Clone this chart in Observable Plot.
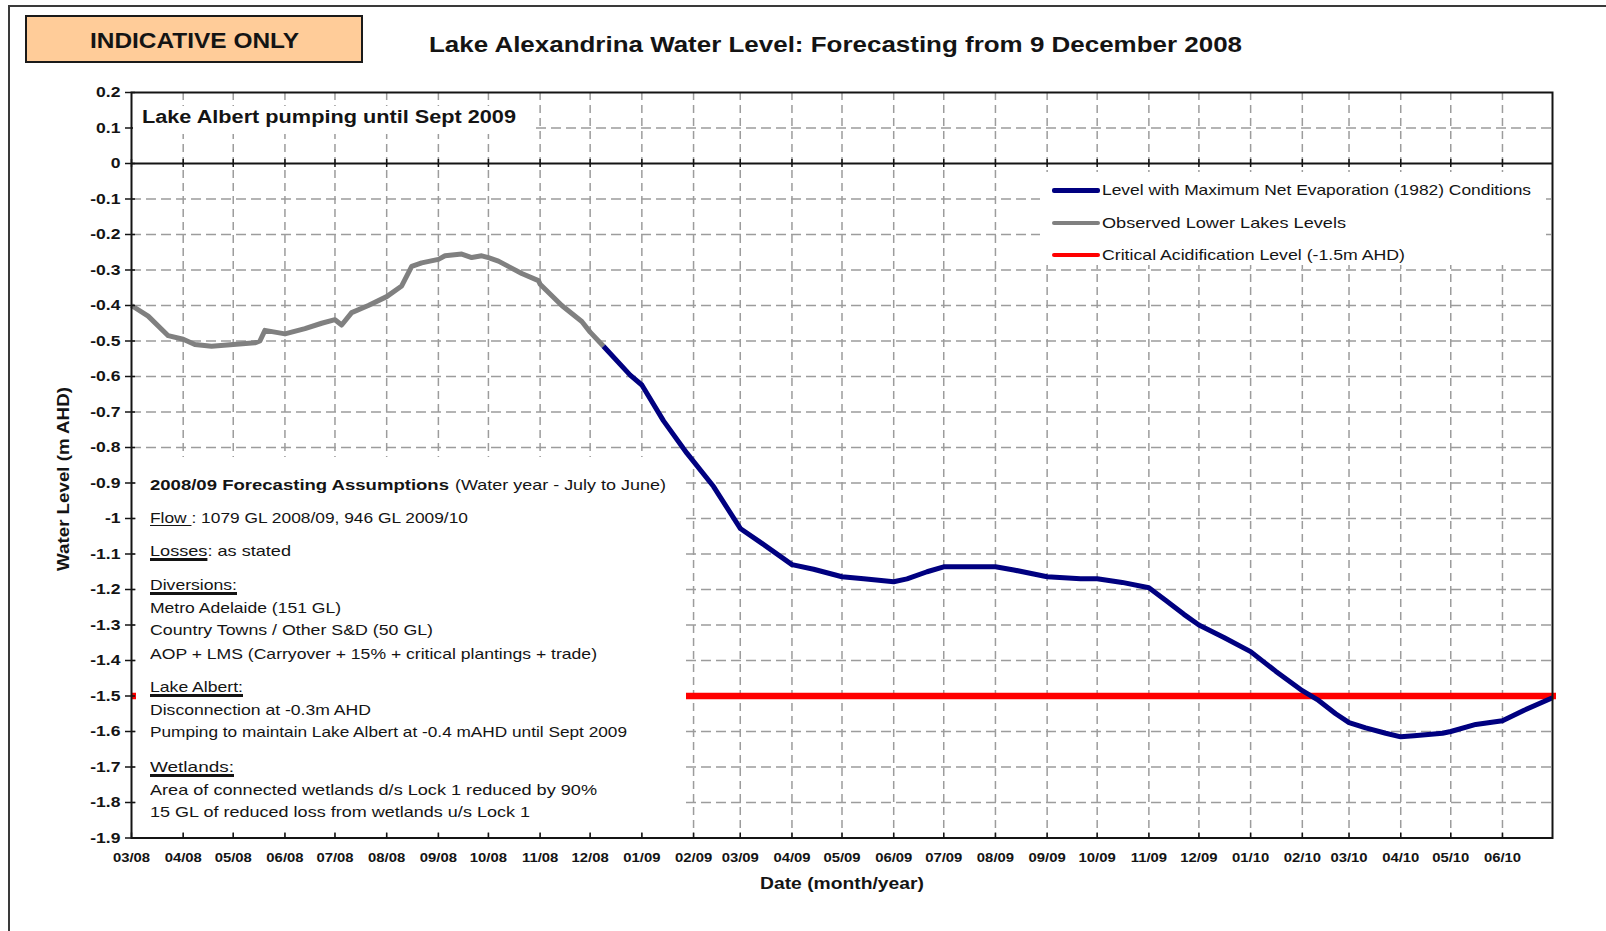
<!DOCTYPE html>
<html>
<head>
<meta charset="utf-8">
<script src="https://cdn.jsdelivr.net/npm/d3@7"></script>
<script src="https://cdn.jsdelivr.net/npm/@observablehq/plot@0.6"></script>
<style>
  html, body { margin: 0; padding: 0; background: #fff; overflow: hidden; }
  #wrap { position: relative; width: 1606px; height: 931px; overflow: hidden;
          font-family: "Liberation Sans", Arial, sans-serif; color: #141414; }
  #chart { position: absolute; left: 0; top: 0; }
  .ov { position: absolute; white-space: nowrap; line-height: 1; transform-origin: 0 50%; }
  .box { position: absolute; background: #fff; }
  .u1 { text-decoration: underline; text-decoration-thickness: 1.2px; text-underline-offset: 2px; }
  .u2 { text-decoration: underline; text-decoration-thickness: 2.6px; text-underline-offset: 2px; }
</style>
</head>
<body>
<div id="wrap"></div>
<script>
// ---------------- data ----------------
const observedDates = ["2008-03-01","2008-03-11","2008-03-23","2008-04-01","2008-04-08","2008-04-18","2008-05-01","2008-05-14","2008-05-17","2008-05-20","2008-06-01","2008-06-13","2008-06-23","2008-07-01","2008-07-05","2008-07-11","2008-07-21","2008-08-01","2008-08-10","2008-08-16","2008-08-22","2008-09-01","2008-09-05","2008-09-15","2008-09-21","2008-09-27","2008-10-01","2008-10-07","2008-10-21","2008-10-31","2008-11-01","2008-11-14","2008-11-26","2008-12-01","2008-12-09"];
const observedLevels = [-0.40,-0.43,-0.485,-0.495,-0.51,-0.515,-0.51,-0.505,-0.50,-0.47,-0.48,-0.465,-0.45,-0.44,-0.455,-0.42,-0.40,-0.375,-0.345,-0.29,-0.28,-0.27,-0.26,-0.255,-0.265,-0.26,-0.265,-0.275,-0.31,-0.33,-0.34,-0.40,-0.445,-0.475,-0.515];

const forecastDates = ["2008-12-09","2008-12-25","2009-01-01","2009-01-14","2009-01-28","2009-02-13","2009-03-01","2009-03-14","2009-04-01","2009-04-14","2009-05-01","2009-05-14","2009-06-01","2009-06-09","2009-06-21","2009-07-01","2009-08-01","2009-08-12","2009-09-01","2009-09-21","2009-10-01","2009-10-16","2009-11-01","2009-11-11","2009-11-22","2009-12-01","2009-12-16","2010-01-01","2010-01-16","2010-02-01","2010-02-10","2010-02-21","2010-03-01","2010-03-11","2010-03-23","2010-04-01","2010-04-09","2010-04-26","2010-05-01","2010-05-16","2010-06-01","2010-06-14","2010-07-01"];
const forecastLevels = [-0.515,-0.596,-0.624,-0.725,-0.816,-0.91,-1.028,-1.07,-1.13,-1.143,-1.164,-1.17,-1.178,-1.17,-1.15,-1.136,-1.136,-1.145,-1.164,-1.17,-1.17,-1.18,-1.195,-1.23,-1.27,-1.30,-1.335,-1.375,-1.43,-1.485,-1.51,-1.55,-1.575,-1.59,-1.605,-1.615,-1.612,-1.605,-1.60,-1.58,-1.57,-1.54,-1.505];

const criticalLevel = [-1.5];
const zeroLevel = [0];

const seriesNames = ["Level with Maximum Net Evaporation (1982) Conditions", "Observed Lower Lakes Levels", "Critical Acidification Level (-1.5m AHD)"];

const xDomainDates = ["2008-03-01", "2010-07-01"];
const yDomain = [-1.9, 0.2];

const xTickDates = ["2008-03-01","2008-04-01","2008-05-01","2008-06-01","2008-07-01","2008-08-01","2008-09-01","2008-10-01","2008-11-01","2008-12-01","2009-01-01","2009-02-01","2009-03-01","2009-04-01","2009-05-01","2009-06-01","2009-07-01","2009-08-01","2009-09-01","2009-10-01","2009-11-01","2009-12-01","2010-01-01","2010-02-01","2010-03-01","2010-04-01","2010-05-01","2010-06-01"];
const xTickLabels = ["03/08","04/08","05/08","06/08","07/08","08/08","09/08","10/08","11/08","12/08","01/09","02/09","03/09","04/09","05/09","06/09","07/09","08/09","09/09","10/09","11/09","12/09","01/10","02/10","03/10","04/10","05/10","06/10"];

const yTickValues = [0.2,0.1,0,-0.1,-0.2,-0.3,-0.4,-0.5,-0.6,-0.7,-0.8,-0.9,-1,-1.1,-1.2,-1.3,-1.4,-1.5,-1.6,-1.7,-1.8,-1.9];
const yTickLabels = ["0.2","0.1","0","-0.1","-0.2","-0.3","-0.4","-0.5","-0.6","-0.7","-0.8","-0.9","-1","-1.1","-1.2","-1.3","-1.4","-1.5","-1.6","-1.7","-1.8","-1.9"];

const titleText = "Lake Alexandrina Water Level: Forecasting from 9 December 2008";
const badgeText = "INDICATIVE ONLY";
const noteText = "Lake Albert pumping until Sept 2009";
const xTitle = "Date (month/year)";
const yTitle = "Water Level (m AHD)";

// ---------------- build ----------------
const parse = d3.utcParse("%Y-%m-%d");
const observed = observedDates.map((d, i) => ({date: parse(d), level: observedLevels[i]}));
const forecast = forecastDates.map((d, i) => ({date: parse(d), level: forecastLevels[i]}));
const months = xTickDates.map(parse);
const xDomain = xDomainDates.map(parse);
const xLabelOf = new Map(months.map((d, i) => [+d, xTickLabels[i]]));
const yLabelOf = new Map(yTickValues.map((v, i) => [v, yTickLabels[i]]));
const gridY = yTickValues.filter(v => v !== yDomain[0] && v !== yDomain[1] && v !== 0);
const gridX = months.slice(1);

const ink = "#141414";
const gridColor = "#9c9c9c";

const chart = Plot.plot({
  width: 1606,
  height: 931,
  marginLeft: 131,
  marginRight: 54,
  marginTop: 92,
  marginBottom: 93.5,
  x: {type: "utc", domain: xDomain},
  y: {domain: yDomain},
  style: {fontFamily: "'Liberation Sans', Arial, sans-serif", color: ink, background: "transparent"},
  marks: [
    Plot.ruleY(gridY, {stroke: gridColor, strokeWidth: 1.5, strokeDasharray: "10,5"}),
    Plot.ruleX(gridX, {stroke: gridColor, strokeWidth: 1.5, strokeDasharray: "8,5"}),
    Plot.ruleY(zeroLevel, {stroke: ink, strokeWidth: 2}),
    Plot.ruleY(criticalLevel, {stroke: "#ff0000", strokeWidth: 6.5, insetRight: -4}),
    Plot.line(observed, {x: "date", y: "level", stroke: "#808080", strokeWidth: 5, strokeLinejoin: "round", strokeLinecap: "butt"}),
    Plot.line(forecast, {x: "date", y: "level", stroke: "#000080", strokeWidth: 5, strokeLinejoin: "round", strokeLinecap: "butt"}),
    Plot.frame({stroke: ink, strokeWidth: 2}),
    Plot.ruleX(months, {y1: zeroLevel[0], y2: zeroLevel[0], insetTop: -4, insetBottom: -4, stroke: ink, strokeWidth: 1.5}),
    Plot.ruleX(months, {y1: yDomain[0], y2: yDomain[0], insetTop: -5, insetBottom: 0, stroke: ink, strokeWidth: 1.5}),
    Plot.ruleY(yTickValues, {x1: xDomain[0], x2: xDomain[0], insetLeft: -6, insetRight: -4, stroke: ink, strokeWidth: 1.5}),
    Plot.axisY({ticks: yTickValues, tickSize: 0, tickPadding: 11, label: null,
                tickFormat: v => yLabelOf.get(v), fontSize: 15, fontWeight: "bold"}),
    Plot.axisX({ticks: months, tickSize: 0, tickPadding: 14, label: null,
                tickFormat: d => xLabelOf.get(+d), fontSize: 13.5, fontWeight: "bold"}),
    Plot.text([xTitle], {frameAnchor: "bottom", dy: 51, fontSize: 16.5, fontWeight: "bold", fill: ink}),
    Plot.text([yTitle], {frameAnchor: "left", rotate: -90, dx: -67.5, fontSize: 16.5, fontWeight: "bold", fill: ink})
  ]
});
chart.id = "chart";
const wrap = document.getElementById("wrap");
wrap.appendChild(chart);

// stretch svg texts horizontally (reference is wide-stretched)
function stretchSvg(el, k) {
  const t = el.getAttribute("transform");
  if (t) el.setAttribute("transform", t + ` scale(${k},1)`);
  else {
    const x = +(el.getAttribute("x") || 0);
    el.setAttribute("transform", `translate(${x},0) scale(${k},1) translate(${-x},0)`);
  }
}
function centerAt(el, cx, cy) {
  const r = el.getBoundingClientRect();
  const dx = cx - (r.left + r.width / 2), dy = cy - (r.top + r.height / 2);
  el.setAttribute("transform", `translate(${dx},${dy}) ` + (el.getAttribute("transform") || ""));
}
chart.querySelectorAll('g[aria-label="y-axis tick label"] text').forEach(t => stretchSvg(t, 1.17));
chart.querySelectorAll('g[aria-label="x-axis tick label"] text').forEach(t => stretchSvg(t, 1.1));
chart.querySelectorAll('g[aria-label="text"] text').forEach(t => {
  if (t.textContent === xTitle) {
    stretchSvg(t, 164 / t.getComputedTextLength());
  } else {
    stretchSvg(t, 184 / t.getComputedTextLength());
    centerAt(t, 63.5, 479);
  }
});

// ---------------- overlays ----------------
function box(x, y, w, h, extra = "") {
  const d = document.createElement("div");
  d.className = "box";
  d.style.cssText = `left:${x}px;top:${y}px;width:${w}px;height:${h}px;${extra}`;
  wrap.appendChild(d);
  return d;
}
function txt(html, x, cy, fs, w, weight = "normal") {
  const d = document.createElement("div");
  d.className = "ov";
  d.innerHTML = html;
  d.style.left = x + "px";
  d.style.top = (cy - 0.49 * fs) + "px";
  d.style.fontSize = fs + "px";
  d.style.fontWeight = weight;
  wrap.appendChild(d);
  const nat = d.getBoundingClientRect().width;
  d.style.transform = `scaleX(${w / nat})`;
  return d;
}

// outer page frame
box(8, 5, 1700, 1000, "background:transparent;border-left:2px solid #3a3a3a;border-top:2px solid #3a3a3a;");

// badge
box(25, 15, 334, 44, "background:#FFCC99;border:2.5px solid #1a1a1a;");
txt(badgeText, 90, 41, 22, 209, "bold");

// title
txt(titleText, 429, 45, 22, 813, "bold");

// note box in plot
box(133, 106, 403, 28);
txt(noteText, 142, 118, 17.5, 374, "bold");

// legend
box(1040, 172, 506, 93);
const swatches = [
  {c: "#000080", h: 5, cy: 190.5},
  {c: "#808080", h: 4.5, cy: 223},
  {c: "#ff0000", h: 4.3, cy: 255}
];
const legendW = [429, 244, 303];
swatches.forEach((s, i) => {
  box(1052, s.cy - s.h / 2, 48, s.h, `background:${s.c};border-radius:2px;`);
  txt(seriesNames[i], 1102, s.cy, 14.5, legendW[i]);
});

// assumptions box
box(136, 457, 550, 375);
const L = 150, FS = 15;
txt("2008/09 Forecasting Assumptions", L, 484, FS, 299, "bold");
txt("(Water year - July to June)", 455, 484, FS, 211);
txt('<span class="u1">Flow </span>: 1079 GL 2008/09, 946 GL 2009/10', L, 517.3, FS, 318);
txt('<span class="u2">Losses</span>: as stated', L, 550.7, FS, 141);
txt('<span class="u2">Diversions:</span>', L, 584.5, FS, 87);
txt("Metro Adelaide (151 GL)", L, 607.7, FS, 191);
txt("Country Towns / Other S&amp;D (50 GL)", L, 629.3, FS, 283);
txt("AOP + LMS (Carryover + 15% + critical plantings + trade)", L, 653, FS, 447);
txt('<span class="u2">Lake Albert:</span>', L, 686.5, FS, 93);
txt("Disconnection at -0.3m AHD", L, 709.5, FS, 221);
txt("Pumping to maintain Lake Albert at -0.4 mAHD until Sept 2009", L, 731.7, FS, 477);
txt('<span class="u2">Wetlands: </span>', L, 766, FS, 84);
txt("Area of connected wetlands d/s Lock 1 reduced by 90%", L, 789.3, FS, 447);
txt("15 GL of reduced loss from wetlands u/s Lock 1", L, 811.7, FS, 380);
</script>
</body>
</html>
